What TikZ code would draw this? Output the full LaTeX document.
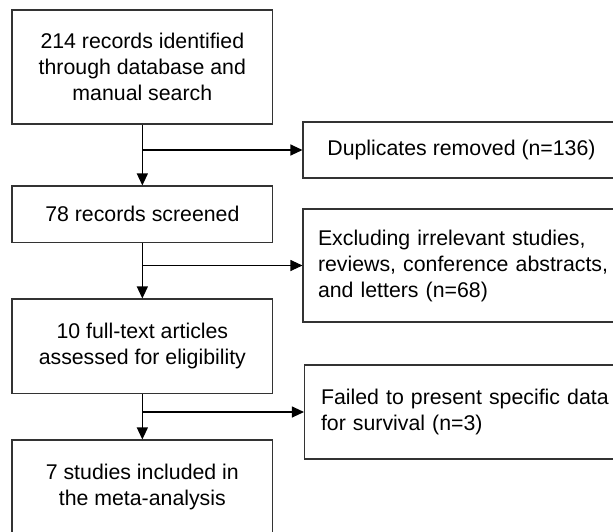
\documentclass[tikz,border=0pt]{standalone}
\usepackage{fontspec}
\setmainfont{Liberation Sans}
\usetikzlibrary{arrows.meta}
\hyphenpenalty=10000
\begin{document}
\begin{tikzpicture}[x=1pt,y=-1pt,
  box/.style={draw=black!80, line width=1.1pt, inner sep=0pt, text=black,
    font=\fontsize{21.3}{26}\selectfont},
  leftbox/.style={box, minimum width=260.7pt, align=center},
  rightbox/.style={box, minimum width=340pt, text width=310pt, inner xsep=15pt},
  arr/.style={draw=black, line width=1.1pt, -{Triangle[length=12pt,width=11pt]}},
  conn/.style={draw=black, line width=1.1pt}]
\useasboundingbox (0,0) rectangle (613,531);
\clip (0,0) rectangle (613,531);
\node[leftbox, minimum height=114pt] (b1) at (142.35,67) {214 records identified\\through database and\\manual search};
\node[leftbox, minimum height=56.5pt] (b2) at (142.35,214.25) {78 records screened};
\node[leftbox, minimum height=94.3pt] (b3) at (142.35,346.15) {10 full-text articles\\assessed for eligibility};
\node[leftbox, minimum height=93pt] (b4) at (142.35,486.5) {7 studies included in\\the meta-analysis};
\node[box, align=center, minimum width=317pt, minimum height=56pt] (dup) at (461.5,150) {Duplicates removed (n=136)};
\node[rightbox, align=left, minimum height=113pt] (excl) at (473,265.5) {Excluding irrelevant studies,\\reviews, conference abstracts,\\and letters (n=68)};
\node[rightbox, align=left, inner xsep=16.5pt, minimum height=94pt] (fail) at (476,412) {Failed to present specific data\\for survival (n=3)};
\draw[arr] (b1.south) -- (b2.north);
\draw[arr] (b2.south) -- (b3.north);
\draw[arr] (b3.south) -- (b4.north);
\coordinate (j1) at (b1.south |- dup.west);
\coordinate (j2) at (b2.south |- excl.west);
\coordinate (j3) at (b3.south |- fail.west);
\draw[arr] (j1) -- (dup.west);
\draw[arr] (j2) -- (excl.west);
\draw[arr] (j3) -- (fail.west);
\end{tikzpicture}
\end{document}
